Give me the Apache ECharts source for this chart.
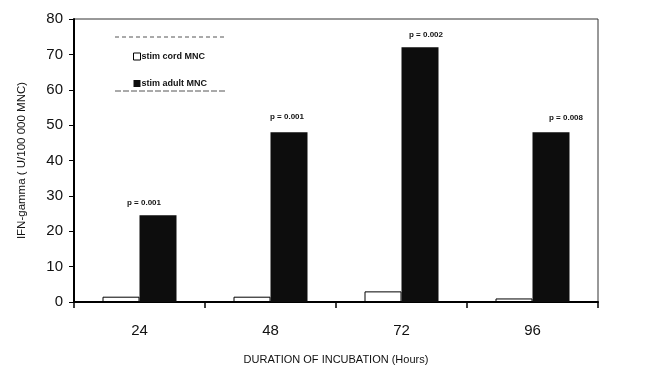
<!DOCTYPE html>
<html><head><meta charset="utf-8">
<script src="https://cdn.jsdelivr.net/npm/echarts@6/dist/echarts.min.js"></script>
<style>html,body{margin:0;padding:0;background:#fff}#c{width:652px;height:371px}</style>
</head><body><div id="c"></div>
<script>
const categories = ['24', '48', '72', '96'];
const cordValues = [1.5, 1.5, 3, 1];
const adultValues = [24.5, 48, 72, 48];
const pLabels = ['p = 0.001', 'p = 0.001', 'p = 0.002', 'p = 0.008'];
const yTicks = [0, 10, 20, 30, 40, 50, 60, 70, 80];

const labelOffsets = [[-14, 0], [-2, -2], [6, 0], [15, -1]];
const chart = echarts.init(document.getElementById('c'));
const font = 'Liberation Sans, Arial, sans-serif';
chart.setOption({
  animation: false,
  textStyle: { fontFamily: font },
  grid: { left: 74, right: 54, top: 19, bottom: 69, show: true, borderColor: '#333', borderWidth: 1 },
  legend: {
    orient: 'vertical', left: 128, top: 47, itemWidth: 7, itemHeight: 7, itemGap: 18,
    textStyle: { fontSize: 9, fontWeight: 'bold', color: '#111', padding: [0, 0, 0, -4] },
    data: [
      { name: 'stim cord MNC', icon: 'rect', itemStyle: { color: '#fff', borderColor: '#000', borderWidth: 1 } },
      { name: 'stim adult MNC', icon: 'rect' }
    ]
  },
  graphic: [
    { type: 'line', shape: { x1: 115, y1: 37, x2: 225, y2: 37 }, style: { stroke: '#555', lineDash: [4, 3], lineWidth: 1 } },
    { type: 'line', shape: { x1: 115, y1: 91, x2: 225, y2: 91 }, style: { stroke: '#555', lineDash: [6, 2], lineWidth: 1 } }
  ],
  xAxis: {
    type: 'category', data: categories,
    name: 'DURATION OF INCUBATION (Hours)', nameLocation: 'middle', nameGap: 52,
    nameTextStyle: { fontSize: 11, color: '#111' },
    axisLine: { lineStyle: { color: '#000', width: 2 } },
    axisTick: { show: true, length: 6, lineStyle: { color: '#000', width: 1.5 } },
    axisLabel: { fontSize: 15, color: '#111', margin: 21 }
  },
  yAxis: {
    type: 'value', min: yTicks[0], max: yTicks[yTicks.length - 1], interval: 10,
    name: 'IFN-gamma ( U/100 000 MNC)', nameLocation: 'middle', nameGap: 46,
    nameTextStyle: { fontSize: 11.5, color: '#111' },
    axisLine: { show: true, lineStyle: { color: '#000', width: 2 } },
    axisTick: { show: true, length: 5, lineStyle: { color: '#000' } },
    axisLabel: { fontSize: 15, color: '#111', margin: 11 },
    splitLine: { show: false }
  },
  series: [
    {
      name: 'stim cord MNC', type: 'bar', barWidth: 37, barGap: '0%',
      itemStyle: { color: '#fff', borderColor: '#000', borderWidth: 1 },
      data: cordValues
    },
    {
      name: 'stim adult MNC', type: 'bar', barWidth: 37,
      itemStyle: { color: '#0d0d0d' },
      data: adultValues.map((v, i) => ({
        value: v,
        label: { show: true, position: 'top', distance: 9, offset: labelOffsets[i], formatter: pLabels[i], fontSize: 8, fontWeight: 'bold', color: '#111' }
      }))
    }
  ]
});
</script></body></html>
